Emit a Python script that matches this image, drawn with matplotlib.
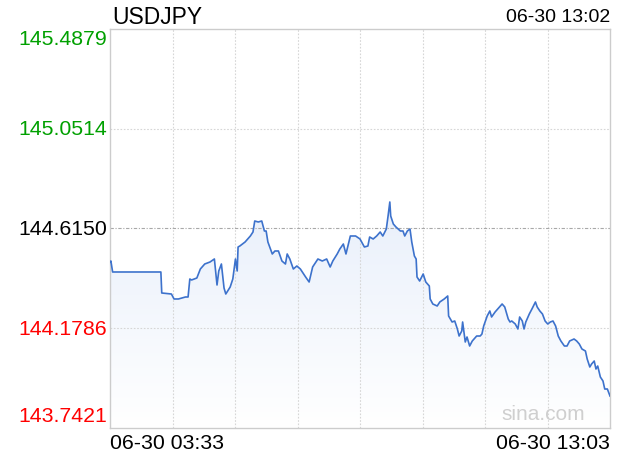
import numpy as np
import matplotlib.pyplot as plt
from matplotlib.colors import LinearSegmentedColormap
from matplotlib.transforms import offset_copy

plt.rcParams['font.family'] = ['Liberation Sans', 'DejaVu Sans']

symbol = "USDJPY"
stamp = "06-30 13:02"
start_label = "06-30 03:33"
end_label = "06-30 13:03"

# minutes since 03:33 and the price read at each
minutes = [0, 1, 3, 58, 59, 70, 73, 78, 86, 89,
           91, 93, 99, 103, 108, 114, 119, 122, 124, 127,
           130, 132, 137, 140, 143, 145, 146, 148, 154, 160,
           163, 165, 169, 173, 176, 178, 180, 185, 188, 192,
           196, 200, 202, 205, 209, 213, 217, 223, 227, 231,
           237, 242, 247, 251, 254, 259, 262, 266, 269, 274,
           280, 285, 290, 294, 296, 300, 304, 308, 311, 315,
           317, 319, 320, 323, 326, 331, 334, 336, 339, 342,
           344, 347, 349, 350, 353, 357, 360, 364, 365, 368,
           373, 376, 381, 385, 386, 390, 393, 396, 398, 401,
           402, 405, 407, 410, 413, 418, 422, 424, 426, 430,
           433, 435, 439, 442, 447, 450, 454, 456, 458, 462,
           465, 467, 470, 472, 474, 478, 481, 485, 487, 490,
           493, 496, 499, 502, 505, 508, 511, 514, 518, 521,
           524, 529, 532, 535, 538, 542, 544, 547, 549, 552,
           554, 556, 559, 562, 564, 567, 570]
prices = [144.4684, 144.4728, 144.4247, 144.4247, 144.3328, 144.3284, 144.3066, 144.3066, 144.3153, 144.3153,
          144.3941, 144.3897, 144.3984, 144.4378, 144.4597, 144.4684, 144.4816, 144.3678, 144.4291, 144.4597,
          144.3547, 144.3284, 144.3590, 144.3941, 144.4816, 144.4291, 144.5341, 144.5384, 144.5560, 144.5822,
          144.5997, 144.6478, 144.6435, 144.6478, 144.6041, 144.6041, 144.5560, 144.5035, 144.5166, 144.5166,
          144.4728, 144.4597, 144.5035, 144.4816, 144.4378, 144.4509, 144.4378, 144.4028, 144.3809, 144.4466,
          144.4816, 144.4728, 144.4816, 144.4466, 144.4728, 144.5035, 144.5253, 144.5472, 144.5035, 144.5822,
          144.5822, 144.5691, 144.5341, 144.5384, 144.5778, 144.5691, 144.5822, 144.5997, 144.5822, 144.6128,
          144.6697, 144.7310, 144.6697, 144.6347, 144.6216, 144.6041, 144.6041, 144.5822, 144.6041, 144.6128,
          144.5560, 144.4947, 144.4816, 144.4028, 144.3853, 144.4159, 144.3809, 144.3634, 144.3066, 144.2847,
          144.2759, 144.2935, 144.3066, 144.3197, 144.2322, 144.2059, 144.2103, 144.1753, 144.1446, 144.1665,
          144.2059, 144.1184, 144.1403, 144.1009, 144.1228, 144.1446, 144.1446, 144.1534, 144.1884, 144.2322,
          144.2541, 144.2278, 144.2497, 144.2628, 144.2847, 144.2716, 144.2190, 144.2059, 144.2103, 144.1972,
          144.1753, 144.2278, 144.2103, 144.1753, 144.2059, 144.2409, 144.2628, 144.2935, 144.2716, 144.2541,
          144.2409, 144.2103, 144.1972, 144.2059, 144.2103, 144.1884, 144.1446, 144.1228, 144.1009, 144.1009,
          144.1228, 144.1315, 144.1228, 144.1096, 144.0878, 144.0790, 144.0440, 144.0090, 144.0221, 144.0352,
          144.0002, 144.0133, 143.9652, 143.9477, 143.9127, 143.9127, 143.8821]

y_ticks = [145.4879, 145.0514, 144.6150, 144.1786, 143.7421]
y_colors = ["#00a000", "#00a000", "#000000", "#ff0000", "#ff0000"]

x = np.array(minutes)
y = np.array(prices)
ymin, ymax = y_ticks[-1], y_ticks[0]
xmax = 570

fig = plt.figure(figsize=(6.2, 4.6), dpi=100)
ax = fig.add_axes([110 / 620, 1 - 429 / 460, 500 / 620, 399 / 460])
ax.set_xlim(0, xmax)
ax.set_ylim(ymin, ymax)

# gradient fill under the line
cmap = LinearSegmentedColormap.from_list("fade", ["#ffffff", "#d8e4f8"])
grad = np.linspace(0, 1, 256).reshape(-1, 1)
im = ax.imshow(grad, cmap=cmap, aspect="auto", origin="lower",
               extent=[0, xmax, ymin, ymax], zorder=1)
poly = ax.fill_between(x, y, ymin, color="none", lw=0)
im.set_clip_path(poly.get_paths()[0], transform=ax.transData)

# grid
for i in range(1, 8):
    ax.axvline(xmax * i / 8, color="#d6d6d6", lw=0.8, ls=(0, (1.5, 1.5)), zorder=2)
for v in y_ticks[1:-1]:
    if v == y_ticks[2]:
        ax.axhline(v, color="#a8a8a8", lw=0.8, ls=(0, (3, 1.5, 1, 1.5)), zorder=2)
    else:
        ax.axhline(v, color="#d6d6d6", lw=0.8, ls=(0, (1.5, 1.5)), zorder=2)

ax.plot(x, y, color="#3d72cc", lw=1.2, zorder=3)

ax.set_xticks([])
ax.set_yticks([])
for s in ax.spines.values():
    s.set_color("#cccccc")
    s.set_linewidth(1)

# y labels
ytrans = ax.get_yaxis_transform()
for i, (v, c) in enumerate(zip(y_ticks, y_colors)):
    tr = ytrans
    va = "center"
    if i == 0:
        va = "top"
    elif i == len(y_ticks) - 1:
        va = "bottom"
        tr = offset_copy(ytrans, fig=fig, x=0, y=3, units="dots")
    ax.text(-0.006, v, f"{v:.4f}", color=c, fontsize=15.3, ha="right", va=va,
            transform=tr)

fig.text(112 / 620, 1 - 17 / 460, symbol, fontsize=16.5, ha="left", va="center")
fig.text(610 / 620, 1 - 17 / 460, stamp, fontsize=14, ha="right", va="center")
fig.text(110 / 620, 1 - 444 / 460, start_label, fontsize=15.3, ha="left", va="center")
fig.text(610 / 620, 1 - 444 / 460, end_label, fontsize=15.3, ha="right", va="center")
ax.text(0.95, 0.012, "sina.com", color="#cfcfcf", fontsize=15, ha="right", va="bottom",
        transform=ax.transAxes, zorder=4)

fig.savefig("out.png", dpi=100)
